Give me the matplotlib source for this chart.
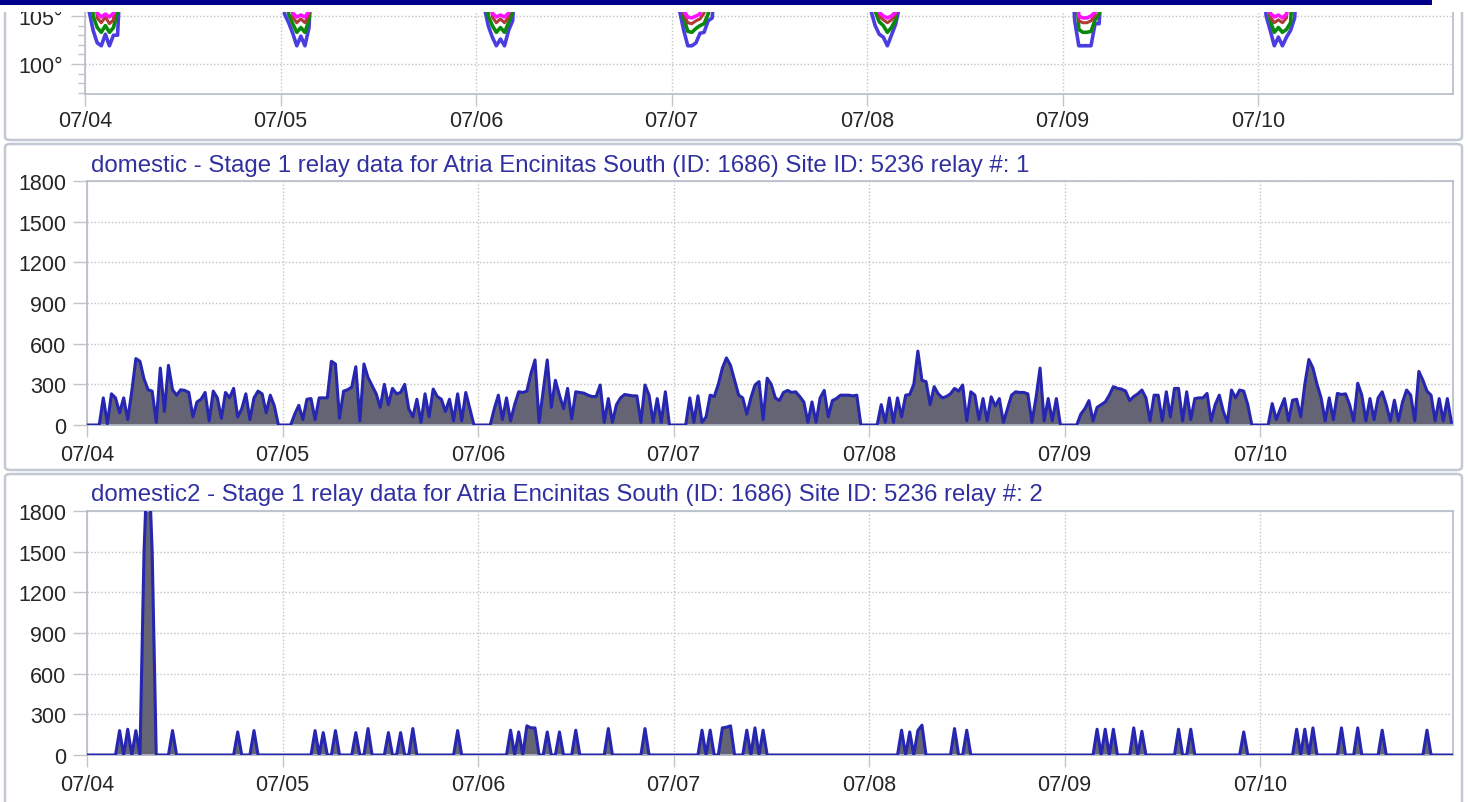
import numpy as np
import matplotlib
matplotlib.use("Agg")
import matplotlib.pyplot as plt
from matplotlib.patches import Rectangle, FancyBboxPatch

plt.rcParams['font.family'] = ['Liberation Sans', 'DejaVu Sans']

W, H = 1468, 803
SLOTS_PER_DAY = 48
day_labels = ["07/04", "07/05", "07/06", "07/07", "07/08", "07/09", "07/10"]

title1 = "domestic - Stage 1 relay data for Atria Encinitas South (ID: 1686) Site ID: 5236 relay #: 1"
title2 = "domestic2 - Stage 1 relay data for Atria Encinitas South (ID: 1686) Site ID: 5236 relay #: 2"
relay_ticks = [0, 300, 600, 900, 1200, 1500, 1800]
temp_ticks = [100, 105]
temp_tick_labels = ["100°", "105°"]

# ---- relay #1 (30-minute samples, 48 per day) ----
relay1_0704 = [0, 0, 0, 0, 200, 10, 230, 200, 90, 200, 40, 250, 490, 470, 340, 260, 250, 20, 420, 100,
               440, 260, 220, 260, 255, 240, 60, 170, 190, 240, 30, 250, 200, 50, 240, 200, 270, 60, 120, 230,
               40, 200, 250, 230, 90, 220, 140, 0]
relay1_0705 = [0, 0, 0, 80, 145, 40, 190, 195, 40, 200, 200, 200, 470, 450, 50, 250, 260, 280, 430, 30,
               450, 350, 290, 230, 130, 300, 150, 270, 230, 240, 300, 120, 60, 190, 20, 230, 60, 265, 210, 190,
               100, 190, 30, 230, 30, 240, 120, 0]
relay1_0706 = [0, 0, 0, 0, 120, 220, 40, 200, 30, 150, 245, 240, 250, 380, 480, 20, 250, 480, 130, 330,
               220, 120, 270, 45, 245, 240, 235, 220, 210, 210, 295, 20, 195, 20, 150, 200, 225, 220, 215, 215,
               20, 295, 220, 20, 195, 20, 245, 0]
relay1_0707 = [0, 0, 0, 0, 200, 20, 215, 20, 60, 220, 210, 300, 420, 495, 440, 330, 220, 200, 80, 200,
               295, 320, 40, 345, 300, 200, 180, 240, 255, 240, 245, 210, 170, 20, 170, 20, 200, 255, 60, 180,
               195, 220, 220, 220, 215, 220, 0, 0]
relay1_0708 = [0, 0, 0, 150, 20, 200, 20, 200, 60, 220, 225, 300, 545, 330, 320, 150, 283, 230, 200, 210,
               230, 270, 250, 295, 30, 245, 220, 40, 195, 30, 208, 140, 195, 20, 120, 220, 245, 240, 240, 230,
               20, 200, 420, 30, 195, 30, 195, 0]
relay1_0709 = [0, 0, 0, 0, 80, 120, 180, 30, 130, 150, 170, 220, 283, 270, 265, 250, 180, 210, 230, 258,
               200, 30, 220, 220, 30, 245, 60, 270, 270, 30, 245, 40, 195, 200, 200, 233, 30, 150, 220, 100,
               20, 258, 200, 258, 250, 150, 0, 0]
relay1_0710 = [0, 0, 0, 158, 40, 120, 195, 30, 183, 190, 60, 300, 483, 420, 300, 200, 30, 200, 40, 233,
               225, 230, 150, 30, 308, 220, 30, 195, 40, 200, 245, 150, 30, 183, 30, 170, 258, 220, 30, 395,
               330, 250, 220, 30, 195, 30, 195, 20]

# ---- relay #2 (sparse on-events: slot within day, value) ----
relay2_0704_slots = [8, 10, 12, 14, 15, 16, 21, 37, 41]
relay2_0704_vals = [180, 190, 180, 1500, 2300, 1500, 180, 170, 180]
relay2_0705_slots = [8, 10, 13, 18, 21, 26, 29, 32, 43]
relay2_0705_vals = [180, 165, 180, 165, 195, 165, 165, 195, 180]
relay2_0706_slots = [8, 10, 12, 13, 14, 17, 20, 24, 32, 41]
relay2_0706_vals = [183, 170, 215, 200, 200, 170, 170, 183, 195, 195]
relay2_0707_slots = [7, 9, 12, 13, 14, 18, 20, 22]
relay2_0707_vals = [183, 183, 200, 205, 215, 183, 200, 183]
relay2_0708_slots = [8, 10, 12, 13, 21, 24]
relay2_0708_vals = [183, 170, 180, 220, 195, 183]
relay2_0709_slots = [8, 10, 12, 17, 19, 28, 31, 44]
relay2_0709_vals = [190, 190, 190, 200, 175, 190, 190, 170]
relay2_0710_slots = [9, 11, 13, 20, 24, 30, 41]
relay2_0710_vals = [190, 190, 200, 200, 200, 183, 183]

# ---- temperatures (only the early-morning dips are on screen) ----
TEMP_OFFSCALE = 112.0
temp_blue_start = [0, 0, 1, 1, 0, 2, 1]
temp_blue_vals = [
    [112, 105.5, 103.5, 102.2, 101.9, 103.1, 101.9, 103.0, 103.0, 112],
    [112, 105.2, 104.3, 103.2, 101.9, 102.9, 101.9, 103.8, 112],
    [112, 106.0, 104.0, 102.8, 101.9, 102.6, 101.9, 103.5, 104.5, 112],
    [112, 105.5, 103.5, 101.9, 101.9, 102.2, 103.2, 103.3, 104.5, 104.8, 112],
    [112, 105.5, 104.0, 103.1, 102.8, 101.9, 103.0, 104.1, 106.0, 112],
    [112, 104.5, 101.9, 101.9, 101.9, 101.9, 104.2, 104.2, 112],
    [112, 105.0, 103.5, 101.9, 102.8, 101.9, 102.8, 103.5, 104.8, 112],
]
temp_green_start = [1, 1, 2, 2, 1, 3, 2]
temp_green_vals = [
    [112, 105.0, 103.8, 103.3, 104.0, 103.3, 103.8, 105.5, 112],
    [112, 105.2, 104.2, 103.3, 103.8, 103.3, 104.6, 112],
    [112, 105.0, 104.0, 103.3, 103.8, 103.3, 104.3, 105.5, 112],
    [112, 104.8, 103.4, 103.3, 103.7, 104.0, 104.2, 105.2, 112],
    [112, 105.5, 104.4, 104.0, 103.3, 103.8, 104.6, 112],
    [112, 103.6, 103.3, 103.3, 103.4, 104.6, 105.2, 112],
    [112, 104.5, 103.3, 103.8, 103.3, 103.6, 104.3, 112],
]
temp_red_start = [2, 2, 3, 2, 2, 3, 2]
temp_red_vals = [
    [112, 104.8, 104.3, 104.9, 104.2, 104.6, 112],
    [112, 104.9, 104.3, 104.7, 104.3, 105.2, 112],
    [112, 104.9, 104.3, 104.7, 104.3, 104.9, 112],
    [112, 105.2, 104.3, 104.2, 104.5, 104.7, 105.3, 112],
    [112, 105.0, 104.6, 104.3, 104.6, 105.2, 112],
    [112, 104.5, 104.3, 104.3, 104.5, 105.1, 112],
    [112, 104.9, 104.3, 104.6, 104.3, 104.8, 112],
]
temp_mag_start = [2, 2, 3, 2, 2, 3, 2]
temp_mag_vals = [
    [112, 105.3, 104.9, 105.2, 104.9, 105.3, 112],
    [112, 105.3, 104.9, 105.1, 104.9, 105.5, 112],
    [112, 105.3, 104.9, 105.1, 104.9, 105.3, 112],
    [112, 105.5, 104.9, 104.8, 105.0, 105.2, 112],
    [112, 105.4, 105.0, 104.8, 105.0, 105.4, 112],
    [112, 105.0, 104.8, 104.8, 105.0, 105.4, 112],
    [112, 105.3, 104.9, 105.1, 104.8, 105.2, 112],
]

# ---------------- assemble series ----------------
n_days = len(day_labels)
n = n_days * SLOTS_PER_DAY
t = np.arange(n) / SLOTS_PER_DAY  # days since 07/04 00:00

relay1 = np.array(relay1_0704 + relay1_0705 + relay1_0706 + relay1_0707 +
                  relay1_0708 + relay1_0709 + relay1_0710, dtype=float)

relay2 = np.zeros(n)
r2_slots = [relay2_0704_slots, relay2_0705_slots, relay2_0706_slots, relay2_0707_slots,
            relay2_0708_slots, relay2_0709_slots, relay2_0710_slots]
r2_vals = [relay2_0704_vals, relay2_0705_vals, relay2_0706_vals, relay2_0707_vals,
           relay2_0708_vals, relay2_0709_vals, relay2_0710_vals]
for d, (ss, vv) in enumerate(zip(r2_slots, r2_vals)):
    for s, v in zip(ss, vv):
        relay2[d * SLOTS_PER_DAY + s] = v


def temp_series(starts, vals):
    y = np.full(n, TEMP_OFFSCALE)
    for d, (st, vv) in enumerate(zip(starts, vals)):
        i0 = d * SLOTS_PER_DAY + st
        y[i0:i0 + len(vv)] = vv
    return y


temp_blue = temp_series(temp_blue_start, temp_blue_vals)
temp_green = temp_series(temp_green_start, temp_green_vals)
temp_red = temp_series(temp_red_start, temp_red_vals)
temp_mag = temp_series(temp_mag_start, temp_mag_vals)

# ---------------- figure ----------------
fig = plt.figure(figsize=(W / 100, H / 100), dpi=100)
fig.patch.set_facecolor('white')

DAY_PX = 195.5
SPINE = '#b4bcc8'
GRID = '#c4c4c4'
TXT = '#262626'
TITLE_C = '#3030a0'
FS = 15.5
TITLE_FS = 17.3


def px_axes(left, top, right, bottom):
    return fig.add_axes([left / W, 1 - bottom / H, (right - left) / W, (bottom - top) / H])


def style(ax, xmax):
    for s in ax.spines.values():
        s.set_color(SPINE)
        s.set_linewidth(1.2)
    ax.set_xlim(0, xmax)
    ax.set_xticks(range(n_days))
    ax.set_xticklabels(day_labels)
    ax.grid(True, color=GRID, linestyle=(0, (1, 1.5)), linewidth=1.0)
    ax.set_axisbelow(True)
    ax.tick_params(axis='x', length=8.6, width=1, color=GRID, pad=5, labelsize=FS, labelcolor=TXT)
    ax.tick_params(axis='y', length=10, width=1, color=GRID, pad=5, labelsize=FS, labelcolor=TXT)


# panel frames (page boxes)
for (y0, y1) in [(-30, 141), (145, 471), (475, 830)]:
    box = FancyBboxPatch((5 / W, 1 - y1 / H), (1462 - 5) / W, (y1 - y0) / H,
                         boxstyle="round,pad=0,rounding_size=0.004",
                         transform=fig.transFigure, facecolor='none',
                         edgecolor='#c2c8d4', linewidth=1.8, zorder=0.5)
    fig.add_artist(box)

# --- top: temperatures ---
ax0 = px_axes(85, -100, 1453, 95)
style(ax0, (1453 - 85) / DAY_PX)
ax0.set_ylim(100 - 30 / 9.6, 100 + 165 / 9.6)
ax0.set_yticks(temp_ticks)
ax0.set_yticklabels(temp_tick_labels)
ax0.set_yticks([97, 98, 99, 101, 102, 103, 104, 106], minor=True)
ax0.tick_params(axis='y', which='minor', length=5, width=1, color=GRID)
ax0.tick_params(axis='y', which='major', pad=6)
ax0.tick_params(axis='x', pad=3)
ax0.plot(t, temp_blue, color='#4a3ee0', lw=2.6, zorder=3)
ax0.plot(t, temp_green, color='#0a8a0a', lw=2.6, zorder=4)
ax0.plot(t, temp_red, color='#b03a3a', lw=2.2, zorder=5)
ax0.plot(t, temp_mag, color='#ff10ff', lw=2.6, zorder=6)

# --- middle: relay 1 ---
ax1 = px_axes(87, 182, 1453, 426)
style(ax1, (1453 - 87) / DAY_PX)
ax1.set_ylim(0, 1800)
ax1.set_yticks(relay_ticks)
ax1.set_yticklabels([str(v) for v in relay_ticks])
ax1.fill_between(t, 0, relay1, color='#646474', lw=0, zorder=2)
ax1.plot(t, relay1, color='#2626b0', lw=2.2, zorder=3)
fig.text(91 / W, 1 - 166 / H, title1, color=TITLE_C, fontsize=TITLE_FS, va='center', ha='left')

# --- bottom: relay 2 ---
ax2 = px_axes(87, 512, 1453, 756)
style(ax2, (1453 - 87) / DAY_PX)
ax2.set_ylim(0, 1800)
ax2.set_yticks(relay_ticks)
ax2.set_yticklabels([str(v) for v in relay_ticks])
ax2.fill_between(t, 0, relay2, color='#646474', lw=0, zorder=2)
ax2.plot(t, relay2, color='#2626b0', lw=2.2, zorder=3)
fig.text(91 / W, 1 - 495 / H, title2, color=TITLE_C, fontsize=TITLE_FS, va='center', ha='left')

# header strip covering the scrolled-off part of the page
fig.add_artist(Rectangle((0, 1 - 13 / H), 1, 13 / H, transform=fig.transFigure,
                         facecolor='white', edgecolor='none', zorder=20))
fig.add_artist(Rectangle((0, 1 - 6 / H), 1432 / W, 6 / H, transform=fig.transFigure,
                         facecolor='#00008b', edgecolor='none', zorder=21))

fig.savefig('out.png', dpi=100)
